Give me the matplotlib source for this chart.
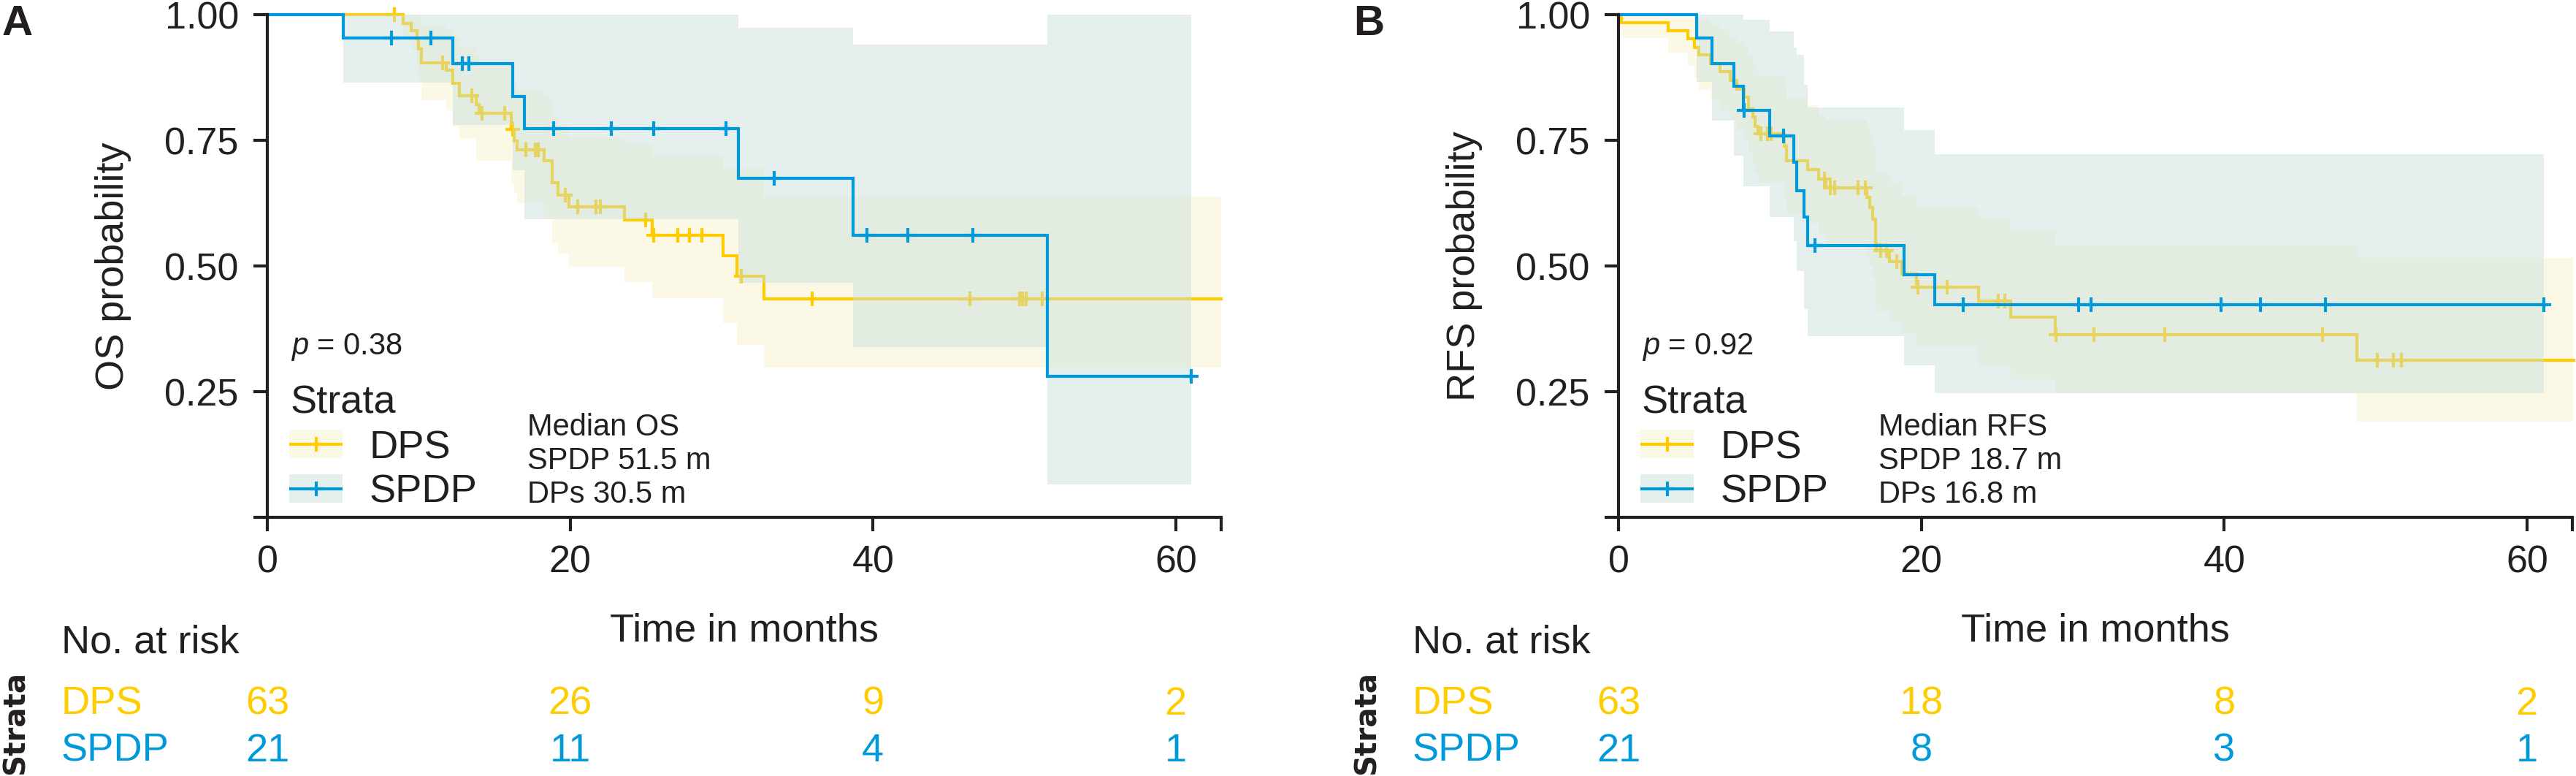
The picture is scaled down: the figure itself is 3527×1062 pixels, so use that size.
import numpy as np
import matplotlib
matplotlib.use('Agg')
import matplotlib.pyplot as plt
from matplotlib import transforms
from matplotlib.patches import Rectangle

# ---------------- data ----------------
# Panel A: overall survival (OS)
os_dps_t = [0, 8.98, 9.5, 9.9, 10.0, 10.2, 11.8, 12.25, 12.7, 13.8, 14.0, 16.1, 16.3, 16.5,
            18.3, 18.8, 19.2, 19.9, 23.6, 25.4, 30.1, 31.0, 32.8]
os_dps_s = [1.0, 0.982, 0.968, 0.952, 0.932, 0.904, 0.889, 0.864, 0.838, 0.821, 0.804, 0.772,
            0.749, 0.731, 0.709, 0.666, 0.641, 0.618, 0.591, 0.561, 0.520, 0.480, 0.435]
os_dps_lo = [1.0, 0.95, 0.93, 0.905, 0.87, 0.83, 0.81, 0.777, 0.753, 0.709, 0.709, 0.665,
             0.646, 0.625, 0.593, 0.545, 0.525, 0.498, 0.468, 0.436, 0.387, 0.343, 0.298]
os_dps_hi = [1.0, 1.0, 1.0, 1.0, 1.0, 0.98, 0.97, 0.955, 0.935, 0.92, 0.905, 0.88,
             0.865, 0.85, 0.835, 0.80, 0.78, 0.755, 0.743, 0.719, 0.695, 0.695, 0.638]
os_dps_end = 63.0
os_dps_cens = [8.37, 11.6, 13.5, 14.2, 15.7, 16.2, 17.1, 17.7, 17.9, 19.7, 20.5, 21.7, 22.0,
               25.0, 25.5, 27.1, 27.9, 28.7, 31.3, 36.0, 46.4, 49.7, 49.9, 50.1, 51.2]

os_spdp_t = [0, 5.0, 12.25, 16.2, 17.0, 31.1, 38.7, 51.5]
os_spdp_s = [1.0, 0.953, 0.902, 0.837, 0.773, 0.675, 0.561, 0.281]
os_spdp_lo = [1.0, 0.865, 0.78, 0.69, 0.593, 0.467, 0.339, 0.065]
os_spdp_hi = [1.0, 1.0, 1.0, 1.0, 1.0, 0.974, 0.940, 1.0]
os_spdp_end = 61.0
os_spdp_cens = [8.2, 10.8, 12.9, 13.3, 18.9, 22.7, 25.5, 30.3, 33.5, 39.6, 42.3, 46.6, 61.0]

# Panel B: recurrence-free survival (RFS)
rfs_dps_t = [0, 0.2, 3.3, 4.6, 5.0, 5.3, 6.1, 6.7, 7.4, 7.8, 8.3, 8.6, 8.9, 9.0, 9.2, 10.95,
             11.1, 12.5, 13.2, 13.7, 16.4, 16.6, 16.8, 17.0, 17.05, 17.9, 18.7, 19.66, 23.8,
             25.9, 28.85, 48.75]
rfs_dps_s = [1.0, 0.984, 0.968, 0.952, 0.935, 0.920, 0.903, 0.886, 0.869, 0.852, 0.836, 0.813,
             0.797, 0.777, 0.763, 0.738, 0.709, 0.692, 0.673, 0.656, 0.637, 0.617, 0.593, 0.545,
             0.530, 0.508, 0.484, 0.458, 0.430, 0.398, 0.364, 0.313]
rfs_dps_lo = [1.0, 0.954, 0.925, 0.898, 0.875, 0.85, 0.83, 0.81, 0.79, 0.77, 0.75, 0.725,
              0.705, 0.685, 0.665, 0.64, 0.605, 0.585, 0.565, 0.545, 0.52, 0.50, 0.475, 0.425,
              0.41, 0.39, 0.365, 0.34, 0.302, 0.275, 0.247, 0.19]
rfs_dps_hi = [1.0, 1.0, 1.0, 1.0, 1.0, 0.99, 0.98, 0.97, 0.955, 0.945, 0.935, 0.92,
              0.905, 0.89, 0.88, 0.86, 0.835, 0.82, 0.80, 0.79, 0.775, 0.76, 0.74, 0.70,
              0.685, 0.665, 0.64, 0.617, 0.596, 0.57, 0.542, 0.516]
rfs_dps_end = 63.1
rfs_dps_cens = [9.4, 9.85, 10.1, 13.6, 14.0, 14.3, 15.8, 16.3, 17.3, 17.7, 18.4, 19.8, 21.7,
                25.1, 25.5, 28.9, 31.4, 36.1, 46.5, 50.1, 51.2, 51.7]

rfs_spdp_t = [0, 5.14, 6.19, 7.63, 8.27, 9.99, 11.57, 11.78, 12.25, 12.48, 18.85, 20.87]
rfs_spdp_s = [1.0, 0.953, 0.903, 0.857, 0.809, 0.759, 0.707, 0.649, 0.598, 0.541, 0.482, 0.4225]
rfs_spdp_lo = [1.0, 0.866, 0.789, 0.72, 0.658, 0.598, 0.55, 0.49, 0.414, 0.36, 0.302, 0.247]
rfs_spdp_hi = [1.0, 1.0, 1.0, 1.0, 0.99, 0.966, 0.935, 0.92, 0.86, 0.816, 0.770, 0.723]
rfs_spdp_end = 61.1
rfs_spdp_cens = [8.3, 10.9, 13.0, 22.75, 30.4, 31.2, 39.8, 42.4, 46.7, 61.1]

# Numbers at risk
risk_times = [0, 20, 40, 60]
os_risk_dps = [63, 26, 9, 2]
os_risk_spdp = [21, 11, 4, 1]
rfs_risk_dps = [63, 18, 8, 2]
rfs_risk_spdp = [21, 8, 3, 1]

strata = ['DPS', 'SPDP']
x_ticks = [0, 20, 40, 60, 63]
x_ticklabels = ['0', '20', '40', '60', '']
y_ticks = [0, 0.25, 0.5, 0.75, 1.0]
y_ticklabels = ['', '0.25', '0.50', '0.75', '1.00']

# ---------------- style ----------------
plt.rcParams['font.family'] = ['Liberation Sans', 'DejaVu Sans']
plt.rcParams['mathtext.fontset'] = 'custom'
plt.rcParams['mathtext.it'] = 'Liberation Sans:italic'
plt.rcParams['mathtext.rm'] = 'Liberation Sans'

W, H, DPI = 3527, 1062, 300
TXT = '#231F20'
C_DPS = '#FFCC00'
C_SPDP = '#0099DA'
F_DPS = '#F8F2C8'
F_SPDP = '#C7DEDA'
BAND_ALPHA = 0.45
LW = 1.0
MS = 4.8

fig = plt.figure(figsize=(W / DPI, H / DPI), dpi=DPI)
fig.patch.set_facecolor('white')
over = fig.add_axes([0, 0, 1, 1], zorder=10)
over.set_xlim(0, W)
over.set_ylim(H, 0)
over.axis('off')
over.patch.set_alpha(0)


def draw_curve(ax, t, s, lo, hi, end, cens, color, fill, z):
    tt = np.r_[t, end]
    ss = np.r_[s, s[-1]]
    ll = np.r_[lo, lo[-1]]
    hh = np.r_[hi, hi[-1]]
    ax.fill_between(tt, ll, hh, step='post', color=fill, alpha=BAND_ALPHA, lw=0, zorder=z)
    ax.step(tt, ss, where='post', color=color, lw=LW, clip_on=False, zorder=z + 1,
            solid_joinstyle='miter')
    idx = np.searchsorted(np.asarray(t), np.asarray(cens), side='right') - 1
    cs = np.asarray(s)[idx]
    ax.plot(cens, cs, ls='none', marker='+', ms=MS, mew=LW, color=color,
            clip_on=False, zorder=z + 1)


def panel(dx, letter, ylabel, pval, med_title, med_lines, dps, spdp, risk_dps, risk_spdp):
    ax = fig.add_axes([(366 + dx) / W, 1 - 708 / H, 1306 / W, 688 / H])
    ax.patch.set_alpha(0)
    ax.set_xlim(0, 63)
    ax.set_ylim(0, 1)
    draw_curve(ax, *dps, C_DPS, F_DPS, 1)
    draw_curve(ax, *spdp, C_SPDP, F_SPDP, 3)
    for side in ['top', 'right']:
        ax.spines[side].set_visible(False)
    for side in ['left', 'bottom']:
        ax.spines[side].set_linewidth(LW)
        ax.spines[side].set_color(TXT)
        ax.spines[side].set_zorder(6)
    ax.set_xticks(x_ticks)
    ax.set_xticklabels(x_ticklabels)
    ax.set_yticks(y_ticks)
    ax.set_yticklabels(y_ticklabels)
    ax.tick_params(direction='out', length=4.6, width=LW, color=TXT,
                   labelsize=12.5, labelcolor=TXT)
    ax.tick_params(axis='y', pad=4.8)
    ax.tick_params(axis='x', pad=4.5)

    # texts
    over.text(3 + dx, 48, letter, fontsize=14, fontweight='bold', color=TXT,
              ha='left', va='baseline')
    over.text(155 + dx, 364, ylabel, fontsize=13, rotation=90, color=TXT,
              ha='center', va='center')
    over.text(398 + dx, 485, pval, fontsize=10, color=TXT, ha='left', va='baseline')
    over.text(398 + dx, 565, 'Strata', fontsize=13, color=TXT, ha='left', va='baseline')
    for i, (name, col, fcol) in enumerate([(strata[0], C_DPS, F_DPS), (strata[1], C_SPDP, F_SPDP)]):
        top = 588 + i * 61
        over.add_patch(Rectangle((396 + dx, top), 73, 39, facecolor=fcol, alpha=BAND_ALPHA, lw=0))
        yl = top + 19.5
        over.plot([396 + dx, 469 + dx], [yl, yl], color=col, lw=LW, solid_capstyle='butt')
        over.plot([432.5 + dx], [yl], marker='+', ms=MS, mew=LW, color=col)
        over.text(505 + dx, top + 39, name, fontsize=13, color=TXT, ha='left', va='baseline')
    over.text(722 + dx, 596, med_title, fontsize=10, color=TXT, ha='left', va='baseline')
    for j, line in enumerate(med_lines):
        over.text(722 + dx, 642 + 46 * j, line, fontsize=10, color=TXT, ha='left', va='baseline')
    over.text(366 + 653 + dx, 877, 'Time in months', fontsize=13, color=TXT,
              ha='center', va='baseline')

    # risk table
    over.text(84 + dx, 893, 'No. at risk', fontsize=13, color=TXT, ha='left', va='baseline')
    over.text(22 + dx, 989, 'Strata', fontsize=9.7, fontweight='bold', rotation=90, color=TXT,
              ha='center', va='center', family='DejaVu Sans')
    trans = transforms.blended_transform_factory(ax.transData, over.transData)
    for name, col, vals, yb in [(strata[0], C_DPS, risk_dps, 978),
                                (strata[1], C_SPDP, risk_spdp, 1042)]:
        over.text(84 + dx, yb, name, fontsize=13, color=col, ha='left', va='baseline')
        for tr, n in zip(risk_times, vals):
            ax.text(tr, yb, str(n), transform=trans, fontsize=13, color=col,
                    ha='center', va='baseline', clip_on=False)
    return ax


panel(0, 'A', 'OS probability', '$p$ = 0.38', 'Median OS', ['SPDP 51.5 m', 'DPs 30.5 m'],
      (os_dps_t, os_dps_s, os_dps_lo, os_dps_hi, os_dps_end, os_dps_cens),
      (os_spdp_t, os_spdp_s, os_spdp_lo, os_spdp_hi, os_spdp_end, os_spdp_cens),
      os_risk_dps, os_risk_spdp)
panel(1850, 'B', 'RFS probability', '$p$ = 0.92', 'Median RFS', ['SPDP 18.7 m', 'DPs 16.8 m'],
      (rfs_dps_t, rfs_dps_s, rfs_dps_lo, rfs_dps_hi, rfs_dps_end, rfs_dps_cens),
      (rfs_spdp_t, rfs_spdp_s, rfs_spdp_lo, rfs_spdp_hi, rfs_spdp_end, rfs_spdp_cens),
      rfs_risk_dps, rfs_risk_spdp)

fig.savefig('out.png', dpi=DPI, facecolor='white')
